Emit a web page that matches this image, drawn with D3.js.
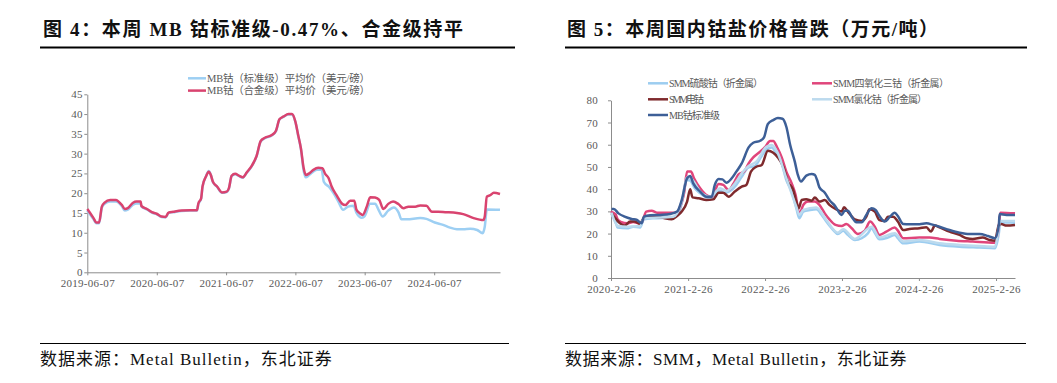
<!DOCTYPE html>
<html><head><meta charset="utf-8">
<script src="https://cdn.jsdelivr.net/npm/d3@7"></script>
<style>body{margin:0;background:#fff} svg{display:block}</style>
</head><body>
<svg id="c" width="1057" height="383"></svg>
<script>
// ---------- DATA (decimal year, value) ----------
const leftStd = [[2019.43,15.6],[2019.52,13.4],[2019.56,12.4],[2019.60,12.4],[2019.64,16.3],[2019.68,17.3],[2019.76,17.9],[2019.84,17.9],[2019.93,16.7],[2019.97,15.6],[2020.02,15.9],[2020.09,17.1],[2020.14,17.4],[2020.20,17.4],[2020.21,16.6],[2020.29,15.9],[2020.36,15.1],[2020.43,14.7],[2020.50,14.0],[2020.56,13.9],[2020.60,15.0],[2020.67,15.2],[2020.79,15.5],[2020.91,15.6],[2021.01,15.6],[2021.03,17.2],[2021.07,18.6],[2021.09,21.6],[2021.14,24.3],[2021.18,25.6],[2021.21,24.6],[2021.24,22.8],[2021.30,21.6],[2021.37,20.1],[2021.44,20.3],[2021.47,21.1],[2021.51,24.3],[2021.56,24.8],[2021.62,24.3],[2021.67,23.9],[2021.73,25.2],[2021.80,26.8],[2021.87,29.3],[2021.93,33.1],[2021.99,33.9],[2022.09,34.6],[2022.15,35.7],[2022.20,38.6],[2022.26,39.3],[2022.33,39.9],[2022.38,39.9],[2022.43,38.0],[2022.47,34.6],[2022.51,31.2],[2022.55,25.6],[2022.58,24.0],[2022.63,24.6],[2022.74,25.9],[2022.81,25.9],[2022.84,22.9],[2022.92,21.5],[2022.98,20.0],[2023.05,17.9],[2023.12,15.8],[2023.19,16.6],[2023.27,16.8],[2023.31,15.1],[2023.39,13.8],[2023.43,14.2],[2023.51,17.3],[2023.58,17.3],[2023.63,15.8],[2023.69,14.1],[2023.77,15.6],[2023.85,16.4],[2023.92,15.1],[2023.96,13.4],[2024.04,13.4],[2024.23,13.7],[2024.32,13.5],[2024.44,12.6],[2024.56,12.0],[2024.66,11.3],[2024.76,10.9],[2024.85,10.9],[2024.95,11.0],[2025.05,10.7],[2025.13,9.9],[2025.16,11.5],[2025.19,15.9],[2025.38,15.8]];
const leftAlloy = [[2019.43,16.0],[2019.52,13.7],[2019.56,12.6],[2019.60,12.6],[2019.64,16.6],[2019.68,17.6],[2019.76,18.3],[2019.84,18.3],[2019.93,17.0],[2019.97,16.0],[2020.02,16.3],[2020.09,17.6],[2020.14,17.9],[2020.20,17.9],[2020.21,16.8],[2020.29,16.0],[2020.36,15.2],[2020.43,14.8],[2020.50,14.1],[2020.56,14.0],[2020.60,15.1],[2020.67,15.3],[2020.79,15.6],[2020.91,15.7],[2021.01,15.7],[2021.03,17.4],[2021.07,18.7],[2021.09,21.7],[2021.14,24.2],[2021.18,25.4],[2021.21,24.6],[2021.24,22.9],[2021.30,21.7],[2021.37,20.2],[2021.44,20.4],[2021.47,21.2],[2021.51,24.4],[2021.56,24.9],[2021.62,24.4],[2021.67,24.0],[2021.73,25.3],[2021.80,26.9],[2021.87,29.4],[2021.93,33.2],[2021.99,34.0],[2022.09,34.7],[2022.15,35.8],[2022.20,38.7],[2022.26,39.4],[2022.33,40.0],[2022.38,40.0],[2022.43,38.1],[2022.47,34.7],[2022.51,31.3],[2022.55,26.3],[2022.58,24.6],[2022.63,25.0],[2022.69,25.9],[2022.76,26.4],[2022.82,26.3],[2022.86,24.9],[2022.91,23.8],[2022.95,21.8],[2023.03,19.3],[2023.10,17.4],[2023.15,17.0],[2023.22,18.1],[2023.28,18.1],[2023.31,15.9],[2023.36,14.9],[2023.40,14.5],[2023.46,16.6],[2023.51,19.0],[2023.58,18.9],[2023.64,18.3],[2023.70,16.0],[2023.77,17.3],[2023.84,17.9],[2023.92,17.2],[2023.99,16.2],[2024.06,16.6],[2024.16,16.6],[2024.23,16.9],[2024.32,16.8],[2024.40,15.3],[2024.49,15.3],[2024.59,15.2],[2024.76,15.0],[2024.85,14.7],[2025.00,13.7],[2025.14,13.2],[2025.16,14.1],[2025.19,19.1],[2025.24,19.5],[2025.29,20.1],[2025.38,19.8]];
const leftNames = ["MB钴（标准级）平均价（美元/磅）","MB钴（合金级）平均价（美元/磅）"];
const leftYTicks = [0,5,10,15,20,25,30,35,40,45];
const leftXTickYears = [2019,2020,2021,2022,2023,2024]; // each June 7

const rSulfate = [[2020.16,28.8],[2020.21,25.4],[2020.24,22.7],[2020.36,22.4],[2020.44,23.1],[2020.53,22.7],[2020.58,26.4],[2020.70,26.9],[2020.96,27.2],[2021.03,29.1],[2021.07,33.6],[2021.14,44.1],[2021.18,43.8],[2021.24,40.4],[2021.31,38.1],[2021.39,36.3],[2021.46,35.9],[2021.52,38.1],[2021.57,39.3],[2021.63,38.4],[2021.70,39.2],[2021.78,41.9],[2021.85,45.6],[2021.94,49.8],[2022.02,50.4],[2022.09,53.9],[2022.17,57.9],[2022.24,58.8],[2022.30,56.1],[2022.37,51.6],[2022.43,44.1],[2022.50,38.9],[2022.56,31.4],[2022.60,26.9],[2022.65,29.9],[2022.74,30.6],[2022.82,30.9],[2022.89,28.4],[2022.95,25.4],[2023.04,21.6],[2023.10,19.8],[2023.17,21.3],[2023.23,19.4],[2023.32,17.1],[2023.41,17.9],[2023.49,20.1],[2023.54,22.4],[2023.58,20.4],[2023.64,17.4],[2023.75,18.2],[2023.84,19.4],[2023.88,17.9],[2023.95,15.6],[2024.16,16.4],[2024.42,14.9],[2024.68,14.1],[2024.94,13.7],[2025.14,13.4],[2025.19,20.1],[2025.21,25.1],[2025.40,24.9]];
const rOxide = [[2020.15,29.9],[2020.21,28.8],[2020.24,26.4],[2020.29,25.1],[2020.36,24.6],[2020.44,25.2],[2020.51,24.6],[2020.55,24.9],[2020.61,29.9],[2020.68,30.3],[2020.75,29.4],[2020.88,29.4],[2021.01,29.4],[2021.05,32.1],[2021.10,38.1],[2021.14,47.9],[2021.19,47.9],[2021.23,44.9],[2021.31,40.4],[2021.39,37.4],[2021.46,36.6],[2021.50,39.2],[2021.55,42.3],[2021.61,41.9],[2021.68,39.6],[2021.74,42.3],[2021.81,46.7],[2021.88,47.9],[2021.94,51.6],[2022.00,54.3],[2022.09,56.9],[2022.15,58.8],[2022.22,61.7],[2022.26,61.7],[2022.31,58.8],[2022.37,54.3],[2022.43,47.9],[2022.50,42.6],[2022.55,37.4],[2022.60,28.8],[2022.65,32.9],[2022.71,34.4],[2022.80,34.4],[2022.86,32.9],[2022.93,29.1],[2022.99,26.4],[2023.07,23.9],[2023.15,23.4],[2023.21,24.3],[2023.28,22.4],[2023.36,19.8],[2023.45,21.3],[2023.52,25.4],[2023.58,23.1],[2023.64,19.4],[2023.73,20.9],[2023.84,22.7],[2023.88,21.3],[2023.95,17.9],[2024.16,18.2],[2024.29,18.2],[2024.42,17.6],[2024.64,16.8],[2024.85,16.4],[2025.14,15.9],[2025.19,23.1],[2025.21,29.4],[2025.40,29.1]];
const rCathode = [[2020.16,29.1],[2020.21,26.9],[2020.27,24.6],[2020.33,23.6],[2020.40,25.4],[2020.46,25.4],[2020.53,24.3],[2020.58,27.2],[2020.66,27.6],[2020.79,27.3],[2020.94,26.4],[2021.01,27.9],[2021.07,29.9],[2021.14,34.4],[2021.18,39.9],[2021.21,36.3],[2021.29,35.9],[2021.39,35.1],[2021.48,35.4],[2021.55,38.4],[2021.61,38.4],[2021.68,36.6],[2021.76,38.9],[2021.85,41.1],[2021.91,41.9],[2021.97,47.9],[2022.04,50.1],[2022.11,50.9],[2022.19,57.3],[2022.26,56.4],[2022.32,54.3],[2022.39,50.1],[2022.45,43.4],[2022.52,39.6],[2022.56,34.4],[2022.59,31.4],[2022.63,35.1],[2022.69,35.4],[2022.76,34.8],[2022.80,36.2],[2022.86,34.4],[2022.93,35.1],[2022.99,32.9],[2023.08,30.9],[2023.15,29.9],[2023.18,31.8],[2023.23,29.9],[2023.32,26.4],[2023.41,25.7],[2023.47,27.6],[2023.51,30.9],[2023.58,29.9],[2023.64,26.1],[2023.71,25.7],[2023.75,27.6],[2023.82,27.6],[2023.88,25.4],[2023.95,21.6],[2024.03,22.1],[2024.16,22.4],[2024.25,22.8],[2024.31,20.9],[2024.36,23.6],[2024.42,22.8],[2024.55,20.9],[2024.68,19.4],[2024.77,17.9],[2024.85,17.6],[2024.98,18.2],[2025.07,17.1],[2025.14,16.8],[2025.19,23.9],[2025.22,24.3],[2025.29,23.6],[2025.40,23.9]];
const rChloride = [[2020.16,29.4],[2020.24,23.4],[2020.36,23.1],[2020.53,23.4],[2020.58,26.9],[2020.96,27.6],[2021.07,34.4],[2021.14,45.3],[2021.19,44.9],[2021.31,38.9],[2021.44,36.6],[2021.57,40.4],[2021.65,39.2],[2021.78,43.4],[2021.85,47.1],[2021.94,50.4],[2022.04,52.4],[2022.17,59.1],[2022.24,59.9],[2022.31,56.9],[2022.43,44.9],[2022.56,32.1],[2022.60,28.4],[2022.65,30.6],[2022.82,31.7],[2022.95,26.1],[2023.10,20.4],[2023.17,21.9],[2023.32,17.6],[2023.54,23.1],[2023.64,18.2],[2023.84,20.1],[2023.95,16.4],[2024.16,17.1],[2024.42,15.6],[2024.68,14.9],[2024.94,14.4],[2025.14,14.1],[2025.21,25.7],[2025.40,25.7]];
const rMB = [[2020.16,31.1],[2020.19,31.1],[2020.25,29.1],[2020.33,27.6],[2020.42,26.6],[2020.49,26.1],[2020.55,24.6],[2020.58,27.6],[2020.66,28.2],[2020.79,28.4],[2020.92,28.8],[2021.01,29.9],[2021.07,35.1],[2021.14,44.9],[2021.18,45.9],[2021.22,42.6],[2021.31,38.9],[2021.39,36.6],[2021.46,36.6],[2021.50,41.9],[2021.55,44.6],[2021.60,44.4],[2021.65,42.9],[2021.72,44.9],[2021.78,47.9],[2021.85,51.6],[2021.94,58.8],[2022.00,60.9],[2022.09,61.8],[2022.14,63.3],[2022.19,69.3],[2022.26,71.1],[2022.32,72.0],[2022.38,71.7],[2022.43,68.1],[2022.48,59.9],[2022.54,52.4],[2022.58,46.4],[2022.62,43.4],[2022.65,44.4],[2022.69,46.1],[2022.76,46.8],[2022.80,46.4],[2022.83,44.1],[2022.86,40.8],[2022.93,38.4],[2022.99,35.1],[2023.06,32.6],[2023.15,28.4],[2023.19,30.3],[2023.23,30.3],[2023.28,27.6],[2023.34,25.1],[2023.41,25.1],[2023.47,28.4],[2023.54,31.4],[2023.59,30.6],[2023.64,27.9],[2023.71,25.4],[2023.77,27.3],[2023.84,29.4],[2023.88,27.9],[2023.95,24.3],[2024.03,24.2],[2024.16,24.2],[2024.25,24.6],[2024.34,23.9],[2024.42,23.1],[2024.55,21.6],[2024.68,20.4],[2024.81,19.8],[2024.94,19.8],[2025.05,18.9],[2025.14,17.9],[2025.19,23.9],[2025.20,28.8],[2025.29,28.4],[2025.40,28.4]];
const rightNames = ["SMM硫酸钴（折金属）","SMM四氧化三钴（折金属）","SMM电钴","SMM氯化钴（折金属）","MB钴标准级"];
const rightYTicks = [0,10,20,30,40,50,60,70,80];
const rightXTickYears = [2020,2021,2022,2023,2024,2025]; // each Feb 26

// ---------- helpers ----------
function yd(y){const Y=Math.floor(y);const s=new Date(Y,0,1),e=new Date(Y+1,0,1);return new Date(+s+(y-Y)*(e-s));}
const svg = d3.select("#c");
svg.append("rect").attr("width",1057).attr("height",383).attr("fill","#fff");
const SERIF = "'Liberation Serif','Times New Roman','Noto Sans CJK SC',serif";
const TICKC = "#595959", AXC = "#8c8c8c";

function header(x0,x1,text,tx,tlen){
  svg.append("text").attr("x",tx).attr("y",36).attr("font-family",SERIF).attr("font-weight","bold")
    .attr("font-size",19).attr("fill","#111").attr("textLength",tlen).attr("lengthAdjust","spacing").text(text);
  svg.append("line").attr("x1",x0).attr("x2",x1).attr("y1",47.5).attr("y2",47.5).attr("stroke","#000").attr("stroke-width",2);
}
function footer(x0,x1,text,ls){
  svg.append("line").attr("x1",x0).attr("x2",x1).attr("y1",343.5).attr("y2",343.5).attr("stroke","#000").attr("stroke-width",1);
  svg.append("text").attr("x",x0).attr("y",365).attr("font-family",SERIF).attr("font-size",17).attr("fill","#111")
    .attr("letter-spacing",ls).text(text);
}
header(40,515,"图 4：本周 MB 钴标准级-0.47%、合金级持平",43,420);
header(565,1027,"图 5：本周国内钴盐价格普跌（万元/吨）",567,371);
footer(40,509,"数据来源：Metal Bulletin，东北证券",1.0);
footer(565,1026,"数据来源：SMM，Metal Bulletin，东北证券",0.6);

function styleAxis(g){
  g.select(".domain").attr("stroke",AXC);
  g.selectAll(".tick line").attr("stroke",AXC);
  g.selectAll(".tick text").attr("fill",TICKC).attr("font-family",SERIF).attr("font-size",11).attr("letter-spacing",0.3);
}

// ---------- LEFT CHART ----------
{
  const x = d3.scaleTime().domain([new Date(2019,5,7), yd(2025.38)]).range([87.3,500]);
  const y = d3.scaleLinear().domain([0,45]).range([272.3,94.3]);
  const fmt = d3.timeFormat("%Y-%m-%d");
  const gx = svg.append("g").attr("transform","translate(0,272.3)")
    .call(d3.axisBottom(x).tickValues(leftXTickYears.map(v=>new Date(v,5,7))).tickFormat(fmt).tickSizeInner(3).tickSizeOuter(0).tickPadding(4));
  styleAxis(gx);
  const gy = svg.append("g").attr("transform","translate(87.3,0)")
    .call(d3.axisLeft(y).tickValues(leftYTicks).tickSizeInner(3).tickSizeOuter(0).tickPadding(1.5));
  styleAxis(gy);
  const line = d3.line().x(d=>x(yd(d[0]))).y(d=>y(d[1])).curve(d3.curveMonotoneX);
  const series = [[leftStd,"#9dcff3"],[leftAlloy,"#d9436f"]];
  series.forEach(([data,c])=>{
    svg.append("path").datum(data).attr("d",line).attr("fill","none").attr("stroke",c).attr("stroke-width",2.5).attr("stroke-linejoin","round");
  });
  leftNames.forEach((n,i)=>{
    const yy = 78.3 + i*12.3;
    svg.append("line").attr("x1",188).attr("x2",206).attr("y1",yy).attr("y2",yy).attr("stroke",series[i][1]).attr("stroke-width",2.5);
    svg.append("text").attr("x",207).attr("y",yy).attr("dy","0.35em").attr("font-family",SERIF).attr("font-size",10.5)
      .attr("fill",TICKC).attr("textLength",163).attr("lengthAdjust","spacing").text(n);
  });
}

// ---------- RIGHT CHART ----------
{
  const x = d3.scaleTime().domain([new Date(2020,1,26), yd(2025.40)]).range([611,1015]);
  const y = d3.scaleLinear().domain([0,80]).range([278,100.3]);
  const fmt = d=>`${d.getFullYear()}-${d.getMonth()+1}-${d.getDate()}`;
  const gx = svg.append("g").attr("transform","translate(0,278)")
    .call(d3.axisBottom(x).tickValues(rightXTickYears.map(v=>new Date(v,1,26))).tickFormat(fmt).tickSizeInner(3).tickSizeOuter(0).tickPadding(4.5));
  styleAxis(gx);
  const gy = svg.append("g").attr("transform","translate(611,0)")
    .call(d3.axisLeft(y).tickValues(rightYTicks).tickSizeInner(3).tickSizeOuter(0).tickPadding(10));
  styleAxis(gy);
  const line = d3.line().x(d=>x(yd(d[0]))).y(d=>y(d[1])).curve(d3.curveMonotoneX);
  const series = [[rSulfate,"#9ccdf0"],[rOxide,"#e0457b"],[rCathode,"#7f2a2d"],[rChloride,"#bcdaee"],[rMB,"#3d5f97"]];
  series.forEach(([data,c])=>{
    svg.append("path").datum(data).attr("d",line).attr("fill","none").attr("stroke",c).attr("stroke-width",2.5).attr("stroke-linejoin","round");
  });
  const pos = [[648,83.3],[812,83.3],[648,99.3],[812,99.3],[648,115]];
  const lens = [94,116,35,94,51];
  rightNames.forEach((n,i)=>{
    const [lx,ly] = pos[i];
    svg.append("line").attr("x1",lx).attr("x2",lx+20).attr("y1",ly).attr("y2",ly).attr("stroke",series[i][1]).attr("stroke-width",2.5);
    svg.append("text").attr("x",lx+21).attr("y",ly).attr("dy","0.35em").attr("font-family",SERIF).attr("font-size",10)
      .attr("fill",TICKC).attr("textLength",lens[i]).attr("lengthAdjust","spacing").text(n);
  });
}
</script>
</body></html>
